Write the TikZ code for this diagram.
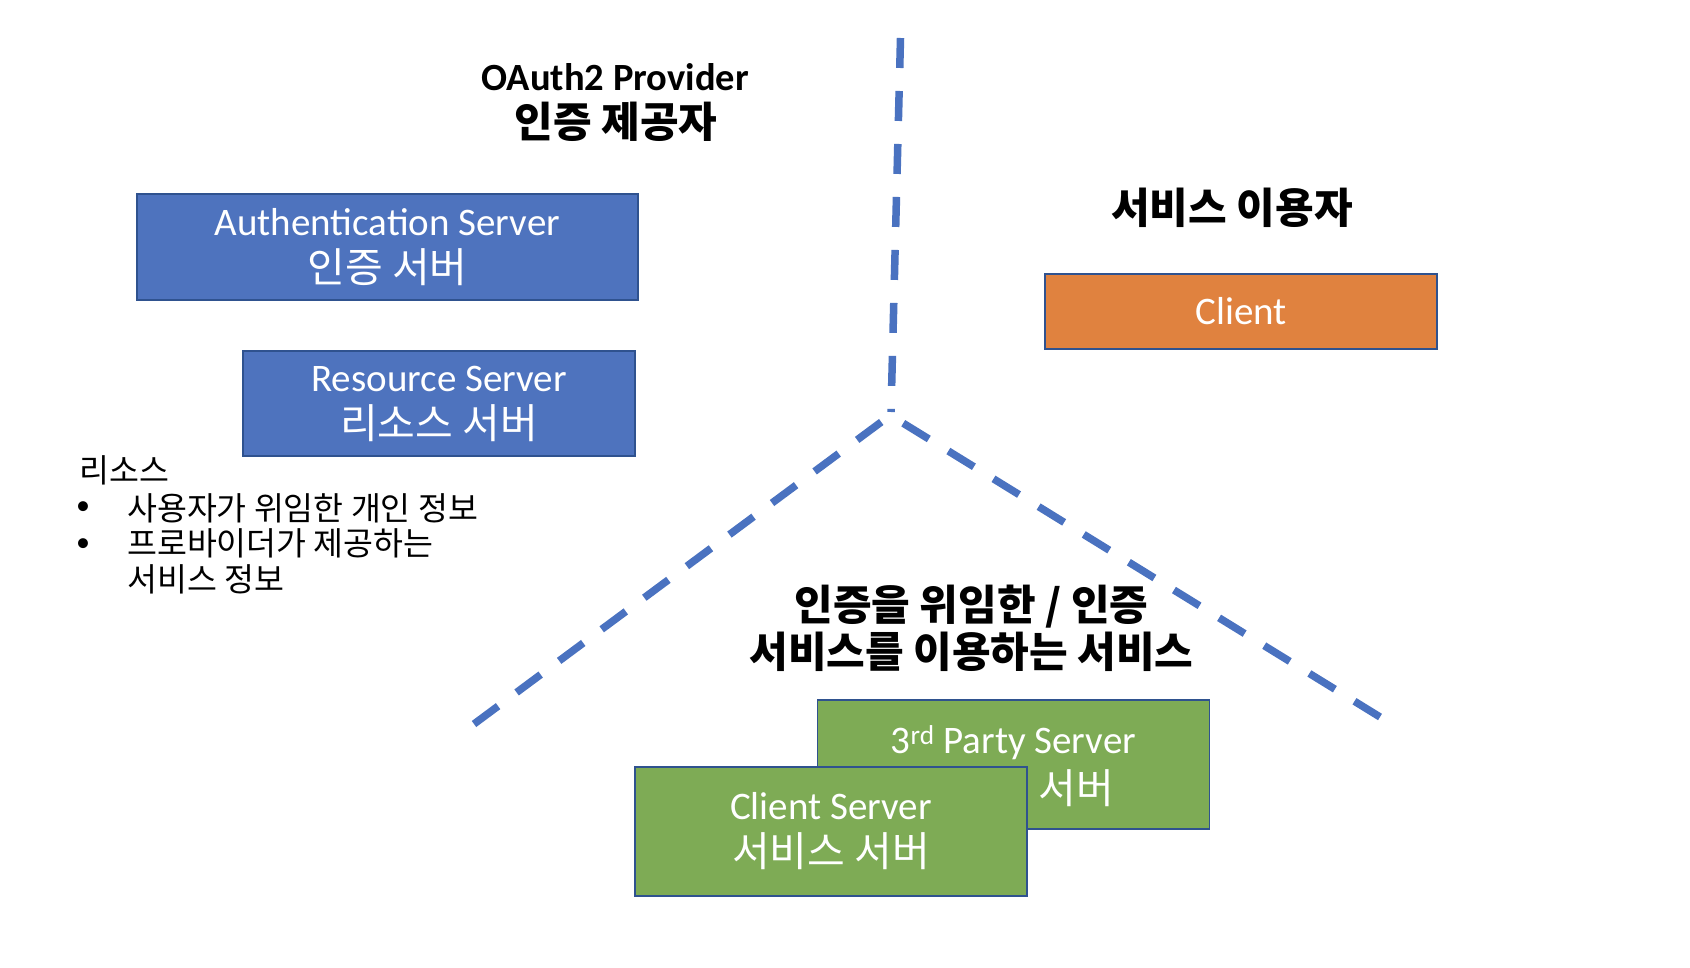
\documentclass[tikz,border=0pt]{standalone}
\usepackage{fontspec}
\setmainfont{Carlito}
\newfontfamily\kr{Noto Sans CJK KR}
\definecolor{boxblue}{HTML}{4E73BE}
\definecolor{edgeblue}{HTML}{2F528F}
\definecolor{boxorange}{HTML}{E0823F}
\definecolor{boxgreen}{HTML}{7EAB55}
\definecolor{dashblue}{HTML}{4A72C0}
\begin{document}
\begin{tikzpicture}[x=1pt,y=-1pt,
  box/.style={draw=edgeblue, line width=1.8pt, text=white, align=center, inner sep=0pt,
              font=\fontsize{39}{47}\selectfont},
  krbox/.style={font=\kr\fontsize{41}{47}\selectfont},
  divider/.style={draw=dashblue, line width=7.5pt, dash pattern=on 30pt off 23pt},
  lattitle/.style={font=\fontsize{38.5}{44}\selectfont\bfseries, inner sep=0pt},
  krtitle/.style={font=\kr\fontsize{42}{47}\selectfont\bfseries, inner sep=0pt, align=center},
  body/.style={font=\kr\fontsize{32.5}{37}\selectfont, inner sep=0pt, anchor=west},
  bul/.style={font=\fontsize{28}{37}\selectfont, inner sep=0pt}
]
\fill[white] (0,0) rectangle (1690,968);
\useasboundingbox (0,0) rectangle (1690,968);

% dividers
\coordinate (vtop) at (900.5,38);
\coordinate (vbot) at (891,412);
\coordinate (ltop) at (888,417);
\coordinate (lbot) at (474,724);
\coordinate (rtop) at (898,420);
\coordinate (rbot) at (1380,717);
\draw[divider] (vtop) -- (vbot);
\draw[divider] (lbot) -- (ltop);
\draw[divider] (rbot) -- (rtop);

% provider side
\node[lattitle] (provA) at (615,77) {OAuth2 Provider};
\node[krtitle] (provB) at (616,122) {인증 제공자};

\node[box, fill=boxblue, minimum width=501pt, minimum height=106pt] (auth) at (387.5,247)
  {Authentication Server\\{\kr\fontsize{41}{47}\selectfont 인증 서버}};
\node[box, fill=boxblue, minimum width=392pt, minimum height=105pt] (res) at (439,403.5)
  {Resource Server\\{\kr\fontsize{41}{47}\selectfont 리소스 서버}};

\node[body] (resT) at (79,470) {리소스};
\node[bul] (b1) at (83,508) {•};
\node[bul] (b2) at (83,545) {•};
\node[body] (r1) at (127,508) {사용자가 위임한 개인 정보};
\node[body] (r2) at (127,543) {프로바이더가 제공하는};
\node[body] (r3) at (127,579) {서비스 정보};

% user side
\node[krtitle] (userT) at (1232,208) {서비스 이용자};
\node[box, fill=boxorange, minimum width=392pt, minimum height=75pt] (client) at (1241,311.5) {Client};

% third-party side
\node[krtitle] (svcT) at (971.5,628) {인증을 위임한 / 인증\\서비스를 이용하는 서비스};

\node[box, fill=boxgreen, minimum width=392pt, minimum height=129pt] (third) at (1013.5,764.5) {};
\node[text=white, inner sep=0pt, font=\fontsize{39}{45}\selectfont] (thirdA) at (1013.5,743) {3\textsuperscript{rd} Party Server};
\node[text=white, inner sep=0pt, krbox] (thirdB) at (1076,788) {서버};

\node[box, fill=boxgreen, minimum width=392pt, minimum height=129pt] (cserver) at (831,831.5)
  {Client Server\\{\kr\fontsize{41}{47}\selectfont 서비스 서버}};
\end{tikzpicture}
\end{document}
